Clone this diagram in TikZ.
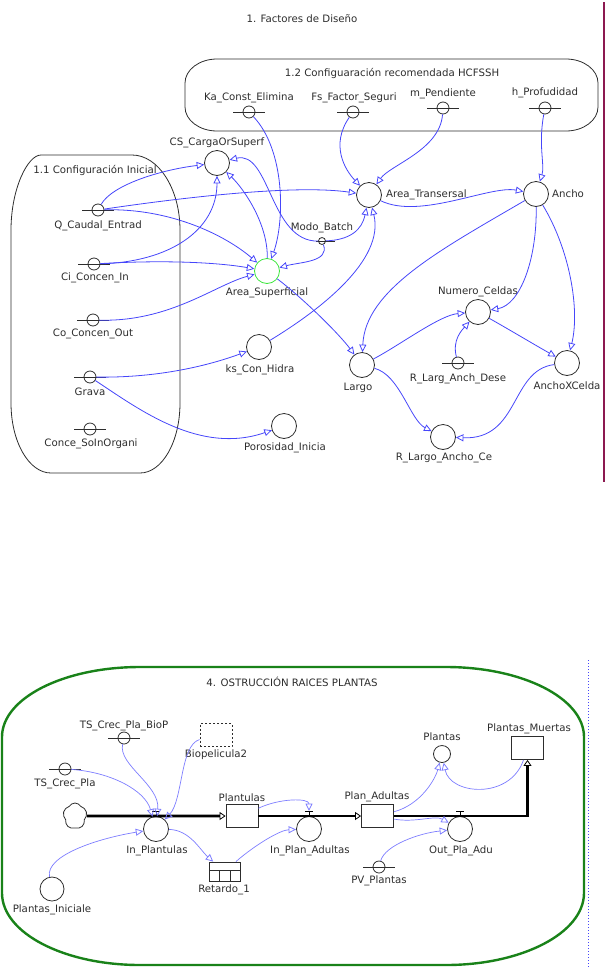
\documentclass[tikz,border=0pt]{standalone}
\usepackage{fontspec}
\setmainfont{DejaVu Sans}
\usetikzlibrary{arrows.meta,shapes.symbols}
\definecolor{linkblue}{RGB}{70,70,250}
\definecolor{linklight}{RGB}{125,125,255}
\definecolor{boxgreen}{RGB}{25,130,25}
\definecolor{framered}{RGB}{140,25,80}
\definecolor{ink}{RGB}{45,45,45}
\definecolor{auxgreen}{RGB}{60,230,60}
\tikzset{
  lbl/.style={font=\fontsize{10.2}{12}\selectfont, text=ink, inner sep=0pt},
  aux/.style={circle, draw=ink, line width=0.8pt, minimum size=25pt, inner sep=0pt},
  konst/.style={circle, draw=ink, line width=0.8pt, minimum size=12pt, inner sep=0pt},
  stock/.style={rectangle, draw=ink, line width=0.8pt, minimum width=32pt, minimum height=23pt, inner sep=0pt},
  link/.style={draw=linkblue, line width=0.8pt, -{Triangle[open, length=7.5pt, width=7pt, line width=0.8pt]}},
  softlink/.style={link, draw=linklight, line width=0.7pt},
  pipe/.style={draw=black, line width=2.6pt, -{Triangle[open, length=6pt, width=8pt, line width=0.8pt]}},
  valve/.style={draw=black, line width=1pt},
}
\begin{document}
\begin{tikzpicture}[x=1pt, y=-1pt]
  \useasboundingbox (0,0) rectangle (608,967);

  \draw[framered, line width=1.2pt] (604,2) -- (604,482);
  \draw[linkblue, line width=1pt, dash pattern=on 1pt off 2pt] (588,660) -- (588,967);

  \node[lbl] (title) at (302,19) {1. Factores de Diseño};
  \draw[ink, line width=0.8pt] (217,59) -- (566,59) .. controls (583.7,59) and (598,69.8) .. (598,83)
    -- (598,107) .. controls (598,120.2) and (583.7,131) .. (566,131) -- (217,131)
    .. controls (199.3,131) and (185,120.2) .. (185,107) -- (185,83)
    .. controls (185,69.8) and (199.3,59) .. (217,59) -- cycle;
  \node[lbl] (t12) at (392,73) {1.2 Configuaración recomendada HCFSSH};
  \draw[ink, line width=0.8pt] (41,155) -- (132,155) .. controls (158.5,155) and (180,189) .. (180,230)
    -- (180,403) .. controls (180,442) and (162,473) .. (140,473) -- (51,473)
    .. controls (29,473) and (11,442) .. (11,403) -- (11,230)
    .. controls (11,189) and (27.6,155) .. (41,155) -- cycle;
  \node[lbl] (t11) at (95,170) {1.1 Configuración Inicial};

  \foreach \n/\x/\y in {ka/249/112, fs/353/112, mp/443/108, hp/545/108, q/98/210, ci/94/264,
      co/93/320, grava/90/377, conce/90/429, rlad/458/363, tsb/124/738, tsc/65/769, pv/379/867} {
    \draw[ink, line width=0.8pt] (\x-16,\y) -- (\x+16,\y);
    \node[konst] (\n) at (\x,\y) {};
  }
  \draw[ink, line width=1pt] (316,241) -- (335,241);
  \node[konst, minimum size=7pt] (modo) at (322,241) {};

  \node[aux] (cs) at (217,163) {};
  \node[aux, draw=auxgreen] (as) at (267,271) {};
  \node[aux] (at) at (369,195) {};
  \node[aux] (an) at (536,194) {};
  \node[aux] (nc) at (478,312) {};
  \node[aux] (largo) at (362,365) {};
  \node[aux] (axc) at (567,363) {};
  \node[aux] (rlac) at (443,437) {};
  \node[aux] (ks) at (259,347) {};
  \node[aux] (por) at (284,426) {};

  \node[lbl] (ka-l) at (249,98) {Ka\_Const\_Elimina};
  \node[lbl] (fs-l) at (354,98) {Fs\_Factor\_Seguri};
  \node[lbl] (mp-l) at (443,94) {m\_Pendiente};
  \node[lbl] (hp-l) at (545,93) {h\_Profudidad};
  \node[lbl] (cs-l) at (217,143) {CS\_CargaOrSuperf};
  \node[lbl] (q-l) at (98,226) {Q\_Caudal\_Entrad};
  \node[lbl] (ci-l) at (95,278) {Ci\_Concen\_In};
  \node[lbl] (co-l) at (93,334) {Co\_Concen\_Out};
  \node[lbl] (grava-l) at (90,392) {Grava};
  \node[lbl] (conce-l) at (91,444) {Conce\_SoInOrgani};
  \node[lbl] (as-l) at (267,293) {Area\_Superficial};
  \node[lbl, anchor=west] (at-l) at (386,195) {Area\_Transersal};
  \node[lbl, anchor=west] (an-l) at (552,194) {Ancho};
  \node[lbl] (modo-l) at (322,228) {Modo\_Batch};
  \node[lbl] (nc-l) at (478,292) {Numero\_Celdas};
  \node[lbl] (ks-l) at (260,370) {ks\_Con\_Hidra};
  \node[lbl] (por-l) at (285,448) {Porosidad\_Inicia};
  \node[lbl] (largo-l) at (358,388) {Largo};
  \node[lbl] (rlad-l) at (458,379) {R\_Larg\_Anch\_Dese};
  \node[lbl] (axc-l) at (567,386) {AnchoXCelda};
  \node[lbl] (rlac-l) at (444,458) {R\_Largo\_Ancho\_Ce};

  \draw[link] (q) .. controls (112,185) and (160,170) .. (cs);
  \draw[link] (q) .. controls (200,195) and (300,185) .. (at);
  \draw[link] (q) .. controls (170,208) and (225,235) .. (as);
  \draw[link] (ci) .. controls (170,262) and (217,230) .. (cs);
  \draw[link] (ci) .. controls (160,260) and (215,262) .. (as);
  \draw[link] (co) .. controls (170,322) and (215,285) .. (as);
  \draw[link] (as) .. controls (268,225) and (245,190) .. (cs);
  \draw[link] (ka) .. controls (285,150) and (285,220) .. (as);
  \draw[link] (modo) .. controls (330,262) and (300,262) .. (as);
  \draw[link] (modo) .. controls (350,240) and (362,230) .. (at);
  \draw[link] (modo) .. controls (270,242) and (270,150) .. (cs);
  \draw[link] (fs) .. controls (330,145) and (345,170) .. (at);
  \draw[link] (mp) .. controls (440,150) and (390,165) .. (at);
  \draw[link] (hp) .. controls (538,145) and (545,165) .. (an);
  \draw[link] (at) .. controls (420,220) and (490,185) .. (an);
  \draw[link] (as) .. controls (305,300) and (340,335) .. (largo);
  \draw[link] (ks) .. controls (320,310) and (385,260) .. (at);
  \draw[link] (an) .. controls (440,250) and (365,290) .. (largo);
  \draw[link] (an) .. controls (537,260) and (520,305) .. (nc);
  \draw[link] (an) .. controls (570,250) and (580,310) .. (axc);
  \draw[link] (largo) .. controls (400,345) and (440,315) .. (nc);
  \draw[link] (rlad) .. controls (452,340) and (462,330) .. (nc);
  \draw[link] (nc) .. controls (510,330) and (535,345) .. (axc);
  \draw[link] (largo) .. controls (400,375) and (410,420) .. (rlac);
  \draw[link] (axc) .. controls (510,370) and (520,440) .. (rlac);
  \draw[link] (grava) .. controls (160,378) and (210,365) .. (ks);
  \draw[link] (grava) .. controls (140,410) and (200,455) .. (por);

  \draw[boxgreen, line width=2.4pt] (140,667) -- (446,667) .. controls (522,667) and (584,698) .. (584,737)
    -- (584,893) .. controls (584,933) and (522,965) .. (446,965) -- (140,965)
    .. controls (64,965) and (2,933) .. (2,893) -- (2,737)
    .. controls (2,698) and (64,667) .. (140,667) -- cycle;
  \node[lbl] (t4) at (292,682) {4. OSTRUCCIÓN RAICES PLANTAS};

  \node[cloud, cloud puffs=5, cloud puff arc=120, aspect=1, draw=ink, line width=0.8pt,
    minimum width=24pt, minimum height=26pt, inner sep=0pt] (src) at (75,816) {};
  \node[stock] (plantulas) at (242,816) {};
  \node[stock] (pa) at (377.5,816) {};
  \node[stock] (pm) at (527.5,748) {};
  \node[stock, dash pattern=on 2pt off 2pt] (bio) at (216,735) {};
  \node[stock, minimum width=31pt, minimum height=19pt] (ret) at (224.5,871.5) {};
  \draw[ink, line width=0.8pt] (209,870) -- (240,870) (219.5,870) -- (219.5,881) (230,870) -- (230,881);
  \node[aux] (inp) at (156,829) {};
  \node[aux] (inpa) at (309,829) {};
  \node[aux] (out) at (460,829) {};
  \node[aux, minimum size=17pt] (plantas) at (442,754) {};
  \node[aux, minimum size=24pt] (pi) at (52,889) {};

  \draw[pipe] (src) -- (plantulas);
  \draw[pipe] (plantulas) -- (pa);
  \draw[pipe] (pa.east) -| (pm.south);
  \foreach \v/\x in {v1/156, v2/309, v3/460} {
    \coordinate (\v) at (\x,811);
    \draw[valve] (\x-4,811) -- (\x+4,811) (\x,811) -- (\x,816);
  }

  \node[lbl] (tsb-l) at (124,726) {TS\_Crec\_Pla\_BioP};
  \node[lbl] (bio-l) at (216,755) {Biopelicula2};
  \node[lbl] (tsc-l) at (65,784) {TS\_Crec\_Pla};
  \node[lbl] (plantulas-l) at (242,798) {Plantulas};
  \node[lbl] (pa-l) at (377,797) {Plan\_Adultas};
  \node[lbl] (plantas-l) at (442,737) {Plantas};
  \node[lbl] (pm-l) at (529,729) {Plantas\_Muertas};
  \node[lbl] (inp-l) at (157,851) {In\_Plantulas};
  \node[lbl] (inpa-l) at (310,851) {In\_Plan\_Adultas};
  \node[lbl] (out-l) at (461,851) {Out\_Pla\_Adu};
  \node[lbl] (ret-l) at (224,890) {Retardo\_1};
  \node[lbl] (pv-l) at (379,881) {PV\_Plantas};
  \node[lbl] (pi-l) at (52,910) {Plantas\_Iniciale};

  \draw[softlink] (tsc) .. controls (110,772) and (145,790) .. (inp);
  \draw[softlink] (tsb) .. controls (118,765) and (160,785) .. (inp);
  \draw[softlink] (bio) .. controls (180,745) and (183,800) .. (inp);
  \draw[softlink] (pi) .. controls (45,855) and (100,838) .. (inp);
  \draw[softlink] (inp) .. controls (190,830) and (200,850) .. (ret);
  \draw[softlink] (ret) .. controls (255,845) and (280,830) .. (inpa);
  \draw[softlink] (plantulas) .. controls (280,798) and (309,798) .. (v2);
  \draw[softlink] (pa) .. controls (420,805) and (435,780) .. (plantas);
  \draw[softlink] (pm) .. controls (510,800) and (450,795) .. (plantas);
  \draw[softlink] (pa) .. controls (415,823) and (435,815) .. (out);
  \draw[softlink] (pv) .. controls (385,845) and (420,833) .. (out);
\end{tikzpicture}
\end{document}
